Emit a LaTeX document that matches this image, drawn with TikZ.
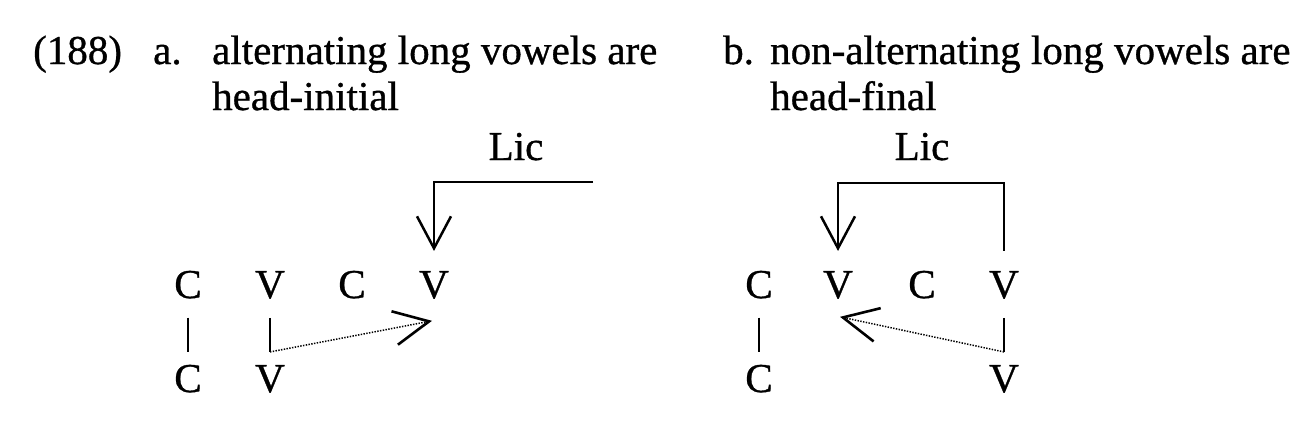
\documentclass[tikz,border=0pt]{standalone}
\usepackage{fontspec}
\setmainfont{Liberation Serif}[FakeBold=0.8]
\usetikzlibrary{arrows.meta}
\begin{document}
\begin{tikzpicture}[x=1pt,y=-1pt,
  txt/.style={inner sep=0pt, anchor=base west, font=\fontsize{41}{49}\selectfont},
  seg/.style={inner sep=0pt, anchor=base, font=\fontsize{41}{49}\selectfont},
  assoc/.style={line width=2.4pt, shorten <=19pt, shorten >=13pt},
  licarrow/.style={line width=2.5pt, -{Straight Barb[length=32pt, width=34pt, line width=2.5pt]}},
  deparrow/.style={line width=1.5pt, dash pattern=on 1.4pt off 1.4pt, -{Straight Barb[length=35pt, width=34pt, line width=2.6pt]}}]
\useasboundingbox (0,0) rectangle (1314,431);
% header texts
\node[txt] (ex) at (33,64) {(188)};
\node[txt] (la) at (153,64) {a.};
\node[txt] (ta1) at (212,64) {alternating long vowels are};
\node[txt] (ta2) at (212,110) {head-initial};
\node[txt] (lb) at (723,64) {b.};
\node[txt] (tb1) at (770,64) {non-alternating long vowels are};
\node[txt] (tb2) at (770,110) {head-final};
% left diagram
\node[seg] (lica) at (516,160) {Lic};
\node[seg] (C1) at (188,298) {C};
\node[seg] (V1) at (270,298) {V};
\node[seg] (C2) at (352,298) {C};
\node[seg] (V2) at (434,298) {V};
\node[seg] (C3) at (188,392) {C};
\node[seg] (V3) at (270,392) {V};
\coordinate (ra) at (593,182);
\draw[assoc] (C1.south) -- (C3.north);
\draw[assoc] (V1.south) -- (V3.north);
\draw[licarrow] (ra) -- (V2.north |- ra) -- ([yshift=20pt]V2.north);
\draw[deparrow] ([yshift=13pt]V3.north) -- ([xshift=-2pt,yshift=-22pt]V2.south);
% right diagram
\node[seg] (licb) at (922,160) {Lic};
\node[seg] (C4) at (759,298) {C};
\node[seg] (V4) at (838,298) {V};
\node[seg] (C5) at (922,298) {C};
\node[seg] (V5) at (1004,298) {V};
\node[seg] (C6) at (759,392) {C};
\node[seg] (V6) at (1004,392) {V};
\draw[assoc] (C4.south) -- (C6.north);
\draw[assoc] (V5.south) -- (V6.north);
\draw[licarrow] ([yshift=20pt]V5.north) |- ([yshift=88pt]V4.north) -- ([yshift=20pt]V4.north);
\draw[deparrow] ([yshift=13pt]V6.north) -- ([xshift=2pt,yshift=-18pt]V4.south);
\end{tikzpicture}
\end{document}
